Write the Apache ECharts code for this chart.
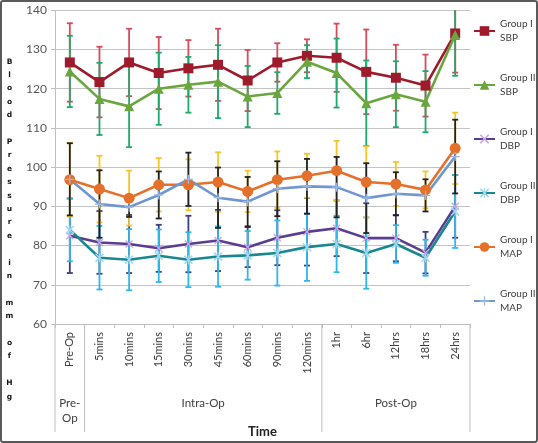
<!DOCTYPE html>
<html><head><meta charset="utf-8">
<script src="https://cdn.jsdelivr.net/npm/echarts@6/dist/echarts.min.js"></script>
<style>html,body{margin:0;padding:0;background:#fff}#c{width:538px;height:443px}</style>
</head><body><div id="c"></div>
<script>
const categories = ['Pre-Op','5mins','10mins','15mins','30mins','45mins','60mins','90mins','120mins','1hr','6hr','12hrs','18hrs','24hrs'];
const groupNames = ['Pre-\nOp','Intra-Op','Post-Op'];
const groupStart = [0,1,9];
const groupEnd = [0,8,13];
const yMin = 60, yMax = 140, yStep = 10;
const yTitle = 'Blood Pressure in mm of Hg';
const xTitle = 'Time';
const seriesNames = ['Group I SBP','Group II SBP','Group I DBP','Group II DBP','Group I MAP','Group II MAP'];
const legendLines = ['Group I\nSBP','Group II\nSBP','Group I\nDBP','Group II\nDBP','Group I\nMAP','Group II\nMAP'];

const sbp1   = [126.7,121.7,126.7,124.0,125.2,126.1,122.1,126.7,128.4,127.9,124.3,122.8,120.8,134.1];
const sbp1Sd = [10,9,8.6,9.2,7.2,9.2,7.8,4.9,4.2,8.7,10.8,8.4,7.9,10];
const sbp2   = [124.4,117.4,115.5,120.0,121.0,121.8,118.0,118.9,126.9,124.0,116.3,118.6,116.7,133.7];
const sbp2Sd = [9.1,9.2,10.4,9.2,7.1,9.3,7.8,5.3,4.2,8.8,10.9,8.4,7.8,10.4];
const dbp1   = [82.5,80.8,80.4,79.3,80.4,81.3,79.6,82.0,83.5,84.4,81.9,81.9,78.2,90.0];
const dbp1Sd = [9.5,8,7.4,6,7.2,7.8,5.1,7,8.6,7.1,8.9,5.9,5.3,8];
const dbp2   = [84.0,76.9,76.4,77.4,76.4,77.2,77.5,78.1,79.6,80.4,78.1,80.4,76.9,88.7];
const dbp2Sd = [8,8.1,7.8,6.7,7,7.7,6.2,8.3,8.6,7.2,9.1,4.8,4.6,9.3];
const map1   = [96.8,94.4,92.1,95.5,95.5,96.2,93.8,96.8,97.8,99.1,96.2,95.7,94.2,104.8];
const map1Sd = [9.4,8.5,7,6.8,6.5,7.6,5.3,7.2,5.6,7.6,9.1,5.6,4.7,9.1];
const map2   = [96.9,90.6,89.8,92.9,96.9,92.2,91.2,94.5,95.1,94.9,92.1,93.2,92.8,102.7];
const map2Sd = [9.2,8.6,2.5,6,6.8,7.7,6.3,7,7,7.7,8.9,5.5,4.1,9.4];

const FONT = 'Lato, "Liberation Sans", sans-serif';
const TXT = '#404040';
const SYM_X = 'path://M0,1.2L1.2,0L5,3.8L8.8,0L10,1.2L6.2,5L10,8.8L8.8,10L5,6.2L1.2,10L0,8.8L3.8,5Z';
const SYM_AST = 'path://M0,1.2L1.2,0L4.4,3.2L4.4,0L5.6,0L5.6,3.2L8.8,0L10,1.2L6.2,5L10,8.8L8.8,10L5.6,6.8L5.6,10L4.4,10L4.4,6.8L1.2,10L0,8.8L3.8,5Z';
const SYM_PLUS = 'path://M4.3,0H5.7V4.3H10V5.7H5.7V10H4.3V5.7H0V4.3H4.3Z';

function errSeries(mean, sd, color) {
  return {
    type: 'custom', silent: true, z: 1,
    data: mean.map((m, i) => [i, m - sd[i], m + sd[i]]),
    encode: { x: 0, y: [1, 2] },
    renderItem(params, api) {
      const x = api.value(0);
      const loV = Math.max(api.value(1), yMin), hiV = Math.min(api.value(2), yMax);
      const lo = api.coord([x, loV]);
      const hi = api.coord([x, hiV]);
      const hw = 3;
      const style = { stroke: color, lineWidth: 1.8, fill: null };
      const ch = [{ type: 'line', shape: { x1: lo[0], y1: lo[1], x2: hi[0], y2: hi[1] }, style }];
      if (api.value(1) >= yMin) ch.push({ type: 'line', shape: { x1: lo[0] - hw, y1: lo[1], x2: lo[0] + hw, y2: lo[1] }, style });
      if (api.value(2) <= yMax) ch.push({ type: 'line', shape: { x1: hi[0] - hw, y1: hi[1], x2: hi[0] + hw, y2: hi[1] }, style });
      return { type: 'group', children: ch };
    }
  };
}
function lineSeries(name, data, color, symbol, size, symColor) {
  return {
    type: 'line', name, data, z: 3,
    symbol, symbolSize: size, showSymbol: true,
    lineStyle: { color, width: 2.6 },
    itemStyle: { color: symColor || color, borderWidth: 0 },
    emphasis: { disabled: true }
  };
}

const chart = echarts.init(document.getElementById('c'), null, { renderer: 'canvas' });
chart.setOption({
  animation: false,
  backgroundColor: '#fff',
  textStyle: { fontFamily: FONT },
  grid: { left: 55, right: 68, top: 10.3, bottom: 118.5, containLabel: false },
  legend: {
    orient: 'vertical', left: 473, top: 10, padding: 0, itemGap: 12,
    itemWidth: 21, itemHeight: 12, data: seriesNames,
    formatter: n => legendLines[seriesNames.indexOf(n)],
    textStyle: { fontSize: 10, lineHeight: 14, padding: [14, 0, 0, 0], color: TXT, fontFamily: FONT, overflow: 'none' }
  },
  xAxis: {
    type: 'category', data: categories, boundaryGap: true,
    name: xTitle, nameLocation: 'middle', nameGap: 101,
    nameTextStyle: { fontSize: 13, fontWeight: 'bold', color: '#222', fontFamily: FONT },
    axisLine: { lineStyle: { color: '#bfbfbf', width: 1 } },
    axisTick: { show: true, length: 4, lineStyle: { color: '#bfbfbf' } },
    axisLabel: { rotate: 90, margin: 8, fontSize: 11, color: TXT, fontFamily: FONT },
    splitLine: { show: false }
  },
  yAxis: {
    type: 'value', min: yMin, max: yMax, interval: yStep,
    axisLine: { show: true, lineStyle: { color: '#bfbfbf', width: 1 } },
    axisTick: { show: true, length: 4, lineStyle: { color: '#bfbfbf' } },
    axisLabel: { margin: 8, fontSize: 12, color: '#555', fontFamily: FONT },
    splitLine: { lineStyle: { color: '#c4c4c4', width: 1 } }
  },
  series: [
    errSeries(sbp1, sbp1Sd, '#d84a5c'),
    errSeries(sbp2, sbp2Sd, '#1eaa6a'),
    errSeries(dbp1, dbp1Sd, '#3b3f7e'),
    errSeries(dbp2, dbp2Sd, '#2fb8ea'),
    errSeries(map1, map1Sd, '#f7c52a'),
    errSeries(map2, map2Sd, '#222222'),
    lineSeries(seriesNames[0], sbp1, '#9e1b2c', 'rect', 10),
    lineSeries(seriesNames[1], sbp2, '#6aa63e', 'triangle', 10),
    lineSeries(seriesNames[2], dbp1, '#5a3d8f', SYM_X, 8, '#c7a8e6'),
    lineSeries(seriesNames[3], dbp2, '#18878f', SYM_AST, 9, '#9fd6f0'),
    lineSeries(seriesNames[4], map1, '#e4702a', 'circle', 11),
    lineSeries(seriesNames[5], map2, '#7096d0', SYM_PLUS, 9, '#9bb8e6')
  ]
});

// decorations built from the axis scale
const px = i => chart.convertToPixel({ xAxisIndex: 0 }, i);
const bw = px(1) - px(0);
const y0 = chart.convertToPixel({ yAxisIndex: 0 }, yMin);
const graphics = [];
const bounds = groupStart.map(s => px(s) - bw / 2).concat([px(groupEnd[groupEnd.length - 1]) + bw / 2]);
bounds.forEach(b => graphics.push({ type: 'line', shape: { x1: b, y1: y0, x2: b, y2: y0 + 108 }, style: { stroke: '#bfbfbf', lineWidth: 1 }, silent: true }));
groupNames.forEach((g, k) => {
  const cx = (px(groupStart[k]) + px(groupEnd[k])) / 2;
  graphics.push({ type: 'text', x: cx, y: y0 + 72, silent: true,
    style: { text: g, align: 'center', verticalAlign: 'top', fontSize: 11.5, lineHeight: 15, fontFamily: FONT, fill: TXT } });
});
graphics.push({ type: 'text', x: 9.5, y: 55, silent: true,
  style: { text: yTitle.split('').join('\n'), align: 'center', verticalAlign: 'top', lineHeight: 13.4, fontSize: 7.5, fontWeight: 'bold', fontFamily: '"DejaVu Sans", sans-serif', fill: '#111' } });
graphics.push({ type: 'rect', shape: { x: 1, y: 1, width: 536, height: 441, r: 2 }, silent: true,
  style: { fill: null, stroke: '#5a5a5a', lineWidth: 2 } });
chart.setOption({ graphic: graphics });
</script>
</body></html>
